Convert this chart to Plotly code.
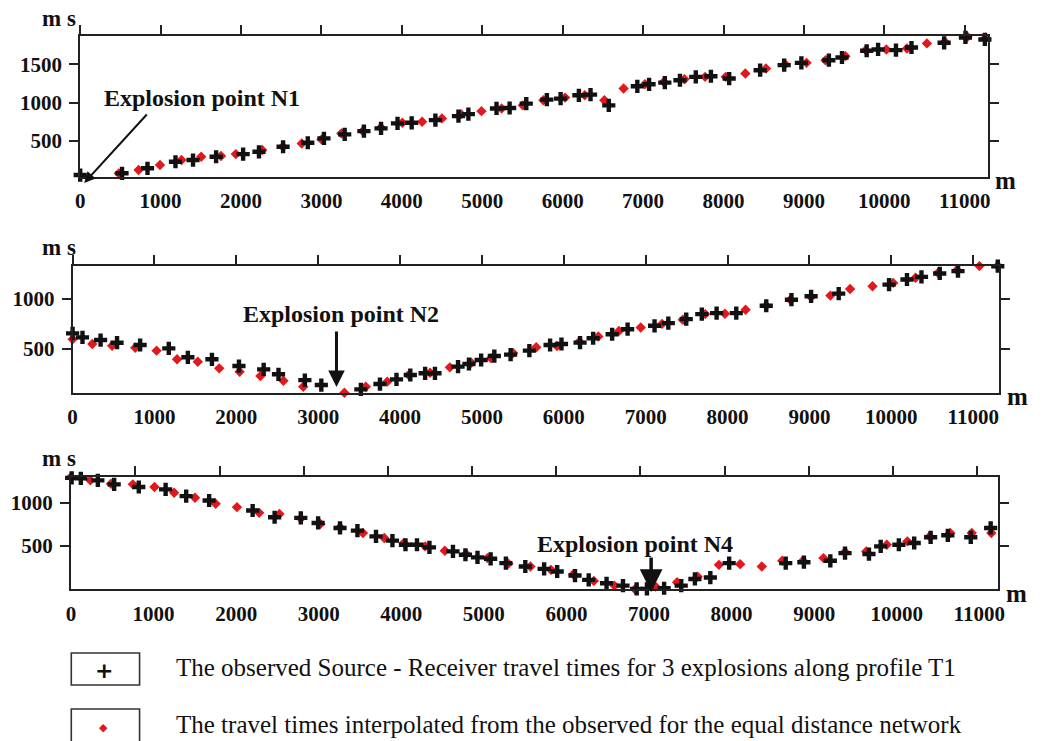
import plotly.graph_objects as go

# ---------------- data ----------------
# Panel 1 : explosion point N1
x1_obs = [0, 336, 520, 837, 1185, 1403, 1690, 2026, 2223, 2523, 2830, 3031, 3289, 3528, 3741,
          3946, 4122, 4417, 4704, 4827, 5177, 5340, 5547, 5803, 5974, 6201, 6346, 6573, 6928,
          7074, 7270, 7458, 7655, 7843, 8070, 8455, 8754, 8968, 9310, 9473, 9780, 9922, 10144,
          10337, 10743, 11008, 11250]
y1_obs = [54, 32, 77, 142, 228, 250, 293, 328, 358, 424, 476, 533, 585, 628, 664,
          729, 737, 772, 824, 850, 924, 930, 987, 1039, 1052, 1096, 1105, 965, 1214,
          1240, 1262, 1293, 1337, 1345, 1315, 1424, 1490, 1520, 1555, 1590, 1678, 1695, 1686,
          1721, 1782, 1852, 1826]
x1_int = [8, 234, 480, 726, 992, 1259, 1505, 1751, 1935, 2263, 2522, 2755, 3001, 3247, 3514,
          3739, 4006, 4252, 4498, 4736, 4990, 5240, 5504, 5760, 6030, 6274, 6518, 6757, 7022,
          7257, 7514, 7771, 8027, 8271, 8528, 8767, 9032, 9268, 9516, 9768, 10025, 10281,
          10529, 10751, 11033, 11260]
y1_int = [11, 11, 76, 120, 185, 250, 294, 302, 328, 381, 424, 467, 520, 598, 628,
          676, 737, 750, 794, 850, 889, 924, 965, 1031, 1066, 1096, 1031, 1184, 1240,
          1271, 1306, 1337, 1337, 1380, 1446, 1503, 1520, 1555, 1608, 1686, 1695, 1708,
          1774, 1796, 1861, 1848]

# Panel 2 : explosion point N2
x2_obs = [0, 121, 342, 543, 825, 1175, 1408, 1702, 2032, 2334, 2515, 2837, 3038, 3280, 3521,
          3754, 3956, 4125, 4306, 4426, 4708, 4841, 4990, 5151, 5350, 5579, 5832, 5971, 6198,
          6358, 6590, 6779, 7108, 7276, 7495, 7685, 7866, 8106, 8472, 8780, 9020, 9357, 9972,
          10191, 10368, 10591, 10814, 11300]
y2_obs = [654, 614, 587, 560, 537, 503, 413, 393, 325, 292, 242, 184, 134, 50, 90,
          144, 191, 235, 252, 252, 319, 346, 386, 426, 440, 480, 537, 547, 561,
          605, 645, 696, 730, 757, 797, 848, 858, 858, 932, 993, 1027, 1054, 1145,
          1196, 1223, 1257, 1280, 1330]
x2_int = [0, 241, 483, 765, 1026, 1276, 1529, 1791, 2040, 2294, 2575, 2817, 3058, 3320, 3581,
          3843, 4105, 4366, 4608, 4869, 5111, 5380, 5663, 5916, 6190, 6421, 6674, 6939, 7200,
          7453, 7727, 7967, 8220, 8472, 8767, 9020, 9256, 9496, 9770, 10022, 10296, 10570,
          10802, 11076, 11300]
y2_int = [594, 547, 530, 510, 480, 393, 369, 302, 268, 225, 178, 117, 43, 57, 117,
          168, 235, 258, 312, 359, 403, 456, 514, 527, 571, 622, 679, 713, 750,
          791, 848, 851, 892, 932, 993, 1020, 1034, 1101, 1128, 1162, 1213, 1263,
          1291, 1331, 1335]

# Panel 3 : explosion point N4
x3_obs = [8, 119, 325, 523, 821, 1146, 1395, 1673, 2200, 2466, 2783, 2993, 3258, 3469, 3694,
          3893, 4051, 4190, 4341, 4626, 4777, 4923, 5082, 5267, 5502, 5730, 5888, 6104, 6270,
          6486, 6685, 6851, 6975, 7183, 7390, 7556, 7743, 7971, 8656, 8876, 9196, 9374, 9664,
          9806, 10026, 10212, 10411, 10619, 10897, 11138]
y3_obs = [1290, 1285, 1261, 1215, 1184, 1157, 1079, 1028, 912, 834, 827, 768, 710, 679, 613,
          563, 516, 516, 485, 439, 400, 369, 353, 303, 264, 237, 206, 159, 109,
          70, 43, 5, 5, 12, 43, 120, 136, 303, 303, 314, 330, 419, 408,
          497, 516, 536, 602, 625, 602, 710]
x3_int = [0, 234, 484, 749, 1011, 1249, 1502, 1752, 2010, 2279, 2525, 2783, 3021, 3258, 3536,
          3794, 4031, 4289, 4527, 4785, 5043, 5297, 5564, 5813, 6083, 6332, 6581, 6830, 7079,
          7340, 7589, 7847, 8104, 8366, 8614, 8864, 9113, 9374, 9631, 9880, 10129, 10399,
          10648, 10909, 11146]
y3_int = [1300, 1261, 1222, 1215, 1184, 1118, 1059, 990, 951, 885, 873, 819, 757, 718, 652,
          594, 536, 497, 446, 408, 361, 297, 264, 225, 175, 97, 43, 0, 31,
          81, 147, 283, 291, 264, 330, 330, 361, 431, 439, 516, 555, 613,
          652, 652, 652]

explosion_labels = ["Explosion point N1", "Explosion point N2", "Explosion point N4"]
y_ticks = [[500, 1000, 1500], [500, 1000], [500, 1000]]
legend_texts = ["The observed Source - Receiver travel times for 3 explosions along profile T1",
                "The travel times interpolated from the observed for the equal distance network"]

# ---------------- styling / layout ----------------
W, H = 1045, 741
BLACK = "#111111"
RED = "#e2181c"
SERIF = "Liberation Serif"


def px_x(p):
    return p / W


def px_y(p):
    return 1 - p / H


# pixel boxes of the three panels: (left, right, top, bottom)
boxes = [(76, 993, 36, 176.5), (68.3, 1005, 265.7, 392.7), (66.7, 1004, 477, 589.3)]
x_ranges = [[0, 11283], [0, 11320], [0, 11232]]
top_ranges = [[0, 11283], [0, 11320], [235, 11254]]
y_ranges = [[35, 1871], [57, 1335], [0, 1300]]

fig = go.Figure()
data = [(x1_obs, y1_obs, x1_int, y1_int), (x2_obs, y2_obs, x2_int, y2_int),
        (x3_obs, y3_obs, x3_int, y3_int)]

layout = dict(width=W, height=H, margin=dict(l=0, r=0, t=0, b=0),
              paper_bgcolor="white", plot_bgcolor="white", showlegend=False)
tickfont = dict(family=SERIF, size=21, color=BLACK, weight="bold")

annotations = []
for i in range(3):
    n = i + 1
    xs = "" if n == 1 else str(n)
    l, r, t, b = boxes[i]
    xo, yo, xi, yi = data[i]
    fig.add_trace(go.Scatter(x=xi, y=yi, mode="markers", name="interpolated",
                             xaxis="x" + xs, yaxis="y" + xs, cliponaxis=False,
                             marker=dict(symbol="diamond", size=8, color=RED)))
    fig.add_trace(go.Scatter(x=xo, y=yo, mode="markers", name="observed",
                             xaxis="x" + xs, yaxis="y" + xs, cliponaxis=False,
                             marker=dict(symbol="cross", size=11, color=BLACK)))
    # empty trace to bring the top tick axis to life
    fig.add_trace(go.Scatter(x=[], y=[], xaxis="x" + str(n + 3), yaxis="y" + xs,
                             showlegend=False, hoverinfo="skip"))
    layout["xaxis" + xs] = dict(domain=[px_x(l), px_x(r)], range=x_ranges[i], anchor="y" + xs,
                                showline=True, linecolor="#222", linewidth=2, mirror=True,
                                ticks="", tickmode="linear", tick0=0, dtick=1000,
                                tickformat="d", tickfont=tickfont, showgrid=False,
                                zeroline=False, ticklabelstandoff=4)
    layout["xaxis" + str(n + 3)] = dict(overlaying="x" + xs, side="top", anchor="y" + xs,
                                        range=top_ranges[i], tickmode="linear", tick0=0,
                                        dtick=1000, ticks="outside", ticklen=10, tickwidth=2,
                                        tickcolor="#222", showticklabels=False, showline=False,
                                        showgrid=False, zeroline=False)
    layout["yaxis" + xs] = dict(domain=[px_y(b), px_y(t)], range=y_ranges[i], anchor="x" + xs,
                                showline=True, linecolor="#222", linewidth=2, mirror="ticks",
                                ticks="outside", ticklen=9, tickwidth=2, tickcolor="#222",
                                tickvals=y_ticks[i], tickformat="d", tickfont=tickfont,
                                showgrid=False, zeroline=False, ticklabelstandoff=3)
    # unit labels
    annotations.append(dict(text="<b>m s</b>", x=px_x(55), y=px_y(t - 18), xref="paper",
                            yref="paper", showarrow=False, xanchor="center", yanchor="middle",
                            font=dict(family=SERIF, size=23, color=BLACK)))
    annotations.append(dict(text="<b>m</b>", x=px_x(r + 18), y=px_y(b + 4), xref="paper",
                            yref="paper", showarrow=False, xanchor="center", yanchor="middle",
                            font=dict(family=SERIF, size=25, color=BLACK)))

# explosion point labels and arrows (pixel positions of text, arrow tips and tails)
label_pos = [(199, 98), (340, 314), (637, 544)]
arrow_tip = [(80, 183), (335, 387), (653, 592)]
arrow_tail = [(64, -70), (0, -57), (0, -36)]
arrow_style = [(2, 1.1, 2), (2, 1.1, 3), (2, 1.3, 3.5)]
for i, txt in enumerate(explosion_labels):
    annotations.append(dict(text="<b>" + txt + "</b>", x=px_x(label_pos[i][0]),
                            y=px_y(label_pos[i][1]), xref="paper", yref="paper",
                            showarrow=False, xanchor="center", yanchor="middle",
                            font=dict(family=SERIF, size=24, color=BLACK)))
    head, size, width = arrow_style[i]
    annotations.append(dict(text="", x=px_x(arrow_tip[i][0]), y=px_y(arrow_tip[i][1]),
                            xref="paper", yref="paper",
                            showarrow=True, ax=arrow_tail[i][0], ay=arrow_tail[i][1],
                            arrowhead=head, arrowsize=size, arrowwidth=width,
                            arrowcolor=BLACK))

# legend (drawn as boxes + text)
shapes = []
leg_rows = [(653, 685, 669), (709, 748, 726)]
for j, (yt, yb, yc) in enumerate(leg_rows):
    shapes.append(dict(type="rect", xref="paper", yref="paper", x0=px_x(67), x1=px_x(136),
                       y0=px_y(yb), y1=px_y(yt), line=dict(color="#333", width=1.6)))
    annotations.append(dict(text=legend_texts[j], x=px_x(171), y=px_y(yc - 2), xref="paper",
                            yref="paper", showarrow=False, xanchor="left", yanchor="middle",
                            font=dict(family=SERIF, size=25, color=BLACK)))
annotations.append(dict(text="<b>+</b>", x=px_x(100), y=px_y(670), xref="paper", yref="paper",
                        showarrow=False, xanchor="center", yanchor="middle",
                        font=dict(family="DejaVu Sans", size=22, color=BLACK)))
annotations.append(dict(text="\u25c6", x=px_x(99.5), y=px_y(727), xref="paper", yref="paper",
                        showarrow=False, xanchor="center", yanchor="middle",
                        font=dict(family="DejaVu Sans", size=11, color=RED)))

layout["annotations"] = annotations
layout["shapes"] = shapes
fig.update_layout(**layout)
fig.write_html("out.html")
